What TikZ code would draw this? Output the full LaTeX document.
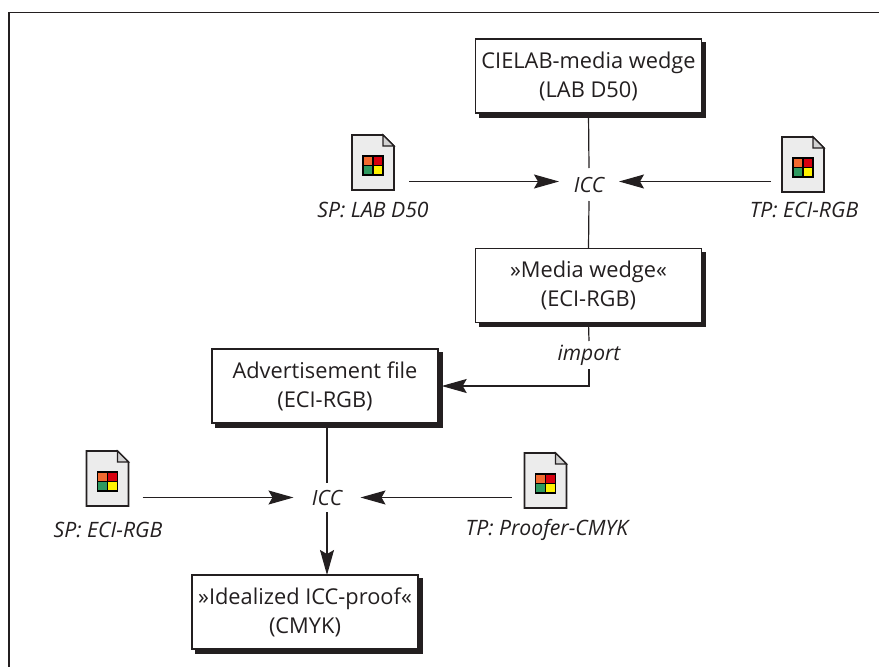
\documentclass[tikz,border=0pt]{standalone}
\usepackage{fontspec}
\setmainfont{Open Sans}
\usetikzlibrary{arrows.meta,shadows}
\definecolor{ink}{HTML}{231F20}
\definecolor{pagegrey}{HTML}{ECECEC}
\definecolor{eargrey}{HTML}{D2D2D2}
\definecolor{cellA}{HTML}{F26A30}
\definecolor{cellB}{HTML}{D7000F}
\definecolor{cellC}{HTML}{2E9A60}
\definecolor{cellD}{HTML}{FFF200}
\tikzset{
  x=1pt,y=-1pt,
  line/.style={draw=ink,line width=1.2pt},
  flow/.style={line,-{Stealth[length=25pt,width=14pt,inset=4pt]}},
  framebox/.style={draw=ink,line width=1.1pt,fill=white,minimum width=226pt,minimum height=74pt,
    inner sep=0pt,outer sep=0pt,align=center,text=ink,
    font=\fontsize{21.8}{29}\selectfont,
    copy shadow={shadow xshift=4pt,shadow yshift=-4pt,fill=ink,draw=ink,opacity=1}},
  opnode/.style={inner sep=0pt,outer sep=0pt,text=ink,font=\fontsize{21}{26}\selectfont\itshape},
  caption/.style={inner sep=0pt,outer sep=0pt,text=ink,font=\fontsize{21.2}{26}\selectfont\itshape},
  docnode/.style={inner sep=0pt,outer sep=0pt,minimum width=42pt,minimum height=55pt},
  sheet/.style={draw=ink,line width=1.6pt,fill=pagegrey,line join=miter},
  ear/.style={draw=ink,line width=1.3pt,fill=eargrey,line join=miter},
  cellline/.style={draw=black,line width=1.4pt},
}
\newcommand{\docicon}[3]{%
  \node[docnode] (#1) at (#2,#3) {};
  \begin{scope}[shift={(#1.north west)}]
    \draw[sheet] (0,0) -- (31,0) -- (42,11) -- (42,55) -- (0,55) -- cycle;
    \draw[ear] (31,0) -- (31,11) -- (42,11) -- cycle;
    \fill[cellA] (11,21) rectangle (21,30.5);
    \fill[cellB] (21,21) rectangle (31,30.5);
    \fill[cellC] (11,30.5) rectangle (21,40);
    \fill[cellD] (21,30.5) rectangle (31,40);
    \draw[cellline] (11,21) rectangle (31,40);
    \draw[cellline] (21,21) -- (21,40) (11,30.5) -- (31,30.5);
  \end{scope}%
}
\begin{document}
\begin{tikzpicture}
\useasboundingbox (0,0) rectangle (879,667);
\draw[line] (879,12.5) -- (9,12.5) -- (9,667);

\node[framebox] (wedge) at (588.5,76) {CIELAB-media wedge\\(LAB D50)};
\node[framebox] (media) at (588.5,285.5) {»Media wedge«\\(ECI-RGB)};
\node[framebox] (advert) at (325,386) {Advertisement file\\(ECI-RGB)};
\node[framebox] (proof) at (305,612) {»Idealized ICC-proof«\\(CMYK)};

\node[opnode,minimum width=60pt,minimum height=33pt] (icca) at (589,184.5) {ICC};
\node[opnode,minimum width=67pt,minimum height=29pt] (iccb) at (327,497.5) {\raisebox{-1pt}{ICC}};
\node[opnode,minimum height=28pt] (import) at (589,355) {\raisebox{-1.5pt}{import}};

\docicon{spa}{373}{162.5}
\docicon{tpa}{803}{164.5}
\docicon{spb}{107.5}{478.5}
\docicon{tpb}{545.5}{480.5}

\node[caption] at (373,210) {SP: LAB D50};
\node[caption] at (804,210) {TP: ECI-RGB};
\node[caption] at (108,529.5) {SP: ECI-RGB};
\node[caption] at (547,529.5) {TP: Proofer-CMYK};

\draw[line] (wedge.south) -- (icca.north);
\draw[line] (icca.south) -- (media.north);
\draw[flow] ([yshift=3pt,xshift=15pt]spa.east |- icca.west) -- ([yshift=3pt]icca.west);
\draw[flow] ([yshift=3pt,xshift=-11pt]tpa.west |- icca.east) -- ([yshift=3pt]icca.east);
\draw[line] (media.south) -- (import.north);
\draw[flow] (import.south) |- ([xshift=3.7pt]advert.east);
\draw[line] (advert.south -| iccb.north) -- (iccb.north);
\draw[flow] ([xshift=14pt]spb.east |- iccb.west) -- (iccb.west);
\draw[flow] ([xshift=-13pt]tpb.west |- iccb.east) -- (iccb.east);
\draw[flow] (iccb.south) -- (iccb.south |- proof.north);
\end{tikzpicture}
\end{document}
